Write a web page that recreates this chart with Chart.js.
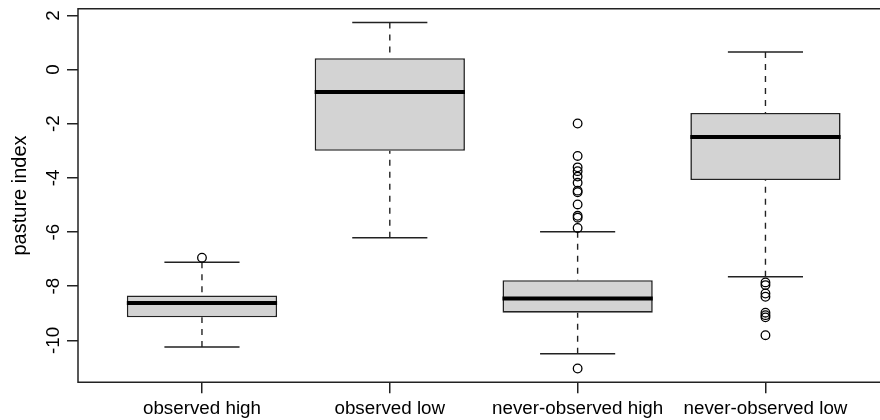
<!DOCTYPE html>
<html>
<head>
<meta charset="utf-8">
<script src="https://cdn.jsdelivr.net/npm/chart.js@4.4.1/dist/chart.umd.min.js"></script>
<style>
  html, body { margin: 0; padding: 0; background: #fff; overflow: hidden; }
  canvas { display: block; }
</style>
</head>
<body>
<canvas id="c" width="880" height="420"></canvas>
<script>
// ---- data ----
const categories = ['observed high', 'observed low', 'never-observed high', 'never-observed low'];
const positions = [1, 2, 3, 4];
const lowerWhisker = [-10.25, -6.21, -10.50, -7.65];
const q1 = [-9.15, -3.00, -8.98, -4.08];
const median = [-8.62, -0.83, -8.45, -2.49];
const q3 = [-8.34, 0.42, -7.78, -1.60];
const upperWhisker = [-7.12, 1.74, -5.99, 0.65];
const outliers = [
  [-6.95],
  [],
  [-1.99, -3.19, -3.61, -3.75, -3.95, -4.18, -4.47, -4.53, -4.98, -5.40, -5.47, -5.85, -11.04],
  [-7.86, -7.96, -8.27, -8.39, -8.98, -9.07, -9.15, -9.81]
];
const yTicks = [-10, -8, -6, -4, -2, 0, 2];
const yMin = -11.55, yMax = 2.25;
const xMin = 0.34, xMax = 4.58;

const BOX_HALF = 0.4;   // boxwex 0.8
const CAP_HALF = 0.2;   // staplewex 0.5
const FONT = "'Liberation Sans', Arial, Helvetica, sans-serif";
const INK = '#222';

function segments(build) {
  const pts = [];
  positions.forEach((p, i) => {
    build(p, i).forEach(seg => { pts.push(seg[0], seg[1], { x: p, y: null }); });
  });
  return pts;
}

const whiskerData = segments((p, i) => [
  [{ x: p, y: upperWhisker[i] }, { x: p, y: q3[i] }],
  [{ x: p, y: lowerWhisker[i] }, { x: p, y: q1[i] }]
]);
const capData = segments((p, i) => [
  [{ x: p - CAP_HALF, y: upperWhisker[i] }, { x: p + CAP_HALF, y: upperWhisker[i] }],
  [{ x: p - CAP_HALF, y: lowerWhisker[i] }, { x: p + CAP_HALF, y: lowerWhisker[i] }]
]);
const medianData = segments((p, i) => [
  [{ x: p - BOX_HALF, y: median[i] }, { x: p + BOX_HALF, y: median[i] }]
]);
const boxData = positions.map((p, i) => ({ x: p, y: [q1[i], q3[i]] }));
const outlierData = [];
positions.forEach((p, i) => outliers[i].forEach(v => outlierData.push({ x: p, y: v })));

const framePlugin = {
  id: 'frame',
  afterDatasetsDraw(chart) {
    const { ctx, chartArea: a } = chart;
    ctx.save();
    ctx.strokeStyle = INK;
    ctx.lineWidth = 1.5;
    ctx.beginPath();
    ctx.moveTo(chart.width + 2, a.top);
    ctx.lineTo(a.left, a.top);
    ctx.lineTo(a.left, a.bottom);
    ctx.lineTo(chart.width + 2, a.bottom);
    ctx.stroke();
    ctx.restore();
  }
};

new Chart(document.getElementById('c'), {
  type: 'bar',
  data: {
    datasets: [
      {
        type: 'scatter', data: outlierData, order: 0,
        pointStyle: 'circle', pointRadius: 4.3, pointBorderWidth: 1.3,
        pointBorderColor: '#000', pointBackgroundColor: 'rgba(0,0,0,0)', showLine: false
      },
      {
        type: 'line', data: medianData, order: 1, borderColor: '#000', borderWidth: 4,
        pointRadius: 0, fill: false, spanGaps: false, tension: 0, borderCapStyle: 'butt'
      },
      {
        type: 'bar', data: boxData, order: 2, backgroundColor: '#d3d3d3',
        borderColor: INK, borderWidth: 1.6, borderSkipped: false,
        barPercentage: 0.8, categoryPercentage: 1.0
      },
      {
        type: 'line', data: whiskerData, order: 3, borderColor: INK, borderWidth: 1.4,
        borderDash: [6, 6], pointRadius: 0, fill: false, spanGaps: false, tension: 0
      },
      {
        type: 'line', data: capData, order: 3, borderColor: INK, borderWidth: 1.5,
        pointRadius: 0, fill: false, spanGaps: false, tension: 0
      }
    ]
  },
  options: {
    responsive: false,
    animation: false,
    devicePixelRatio: 1,
    layout: { padding: { top: 8.7, left: 0, right: 0, bottom: 0 } },
    plugins: { legend: { display: false }, tooltip: { enabled: false } },
    scales: {
      x: {
        type: 'linear', min: xMin, max: xMax, offset: false,
        grid: { offset: false, drawOnChartArea: false, drawTicks: true, tickLength: 11, color: INK, lineWidth: 1.5 },
        border: { display: false },
        afterBuildTicks: s => { s.ticks = positions.map(v => ({ value: v })); },
        afterFit: s => { s.height = 37.7; },
        ticks: {
          color: '#000', padding: 4.4, maxRotation: 0, autoSkip: false,
          font: { family: FONT, size: 18.8, lineHeight: 1.2 },
          callback: v => categories[positions.indexOf(v)] ?? ''
        }
      },
      y: {
        type: 'linear', min: yMin, max: yMax,
        grid: { drawOnChartArea: false, drawTicks: true, tickLength: 11, color: INK, lineWidth: 1.5 },
        border: { display: false },
        afterBuildTicks: s => { s.ticks = yTicks.map(v => ({ value: v })); },
        afterFit: s => { s.width = 78; },
        ticks: {
          color: '#000', padding: 0, minRotation: 90, maxRotation: 90, crossAlign: 'center', autoSkip: false,
          font: { family: FONT, size: 18.8, lineHeight: 0.8 },
          callback: v => String(v)
        },
        title: {
          display: true, text: 'pasture index', color: '#000',
          padding: { top: 8, bottom: 0 },
          font: { family: FONT, size: 20, lineHeight: 1.2 }
        }
      }
    }
  },
  plugins: [framePlugin]
});
</script>
</body>
</html>
